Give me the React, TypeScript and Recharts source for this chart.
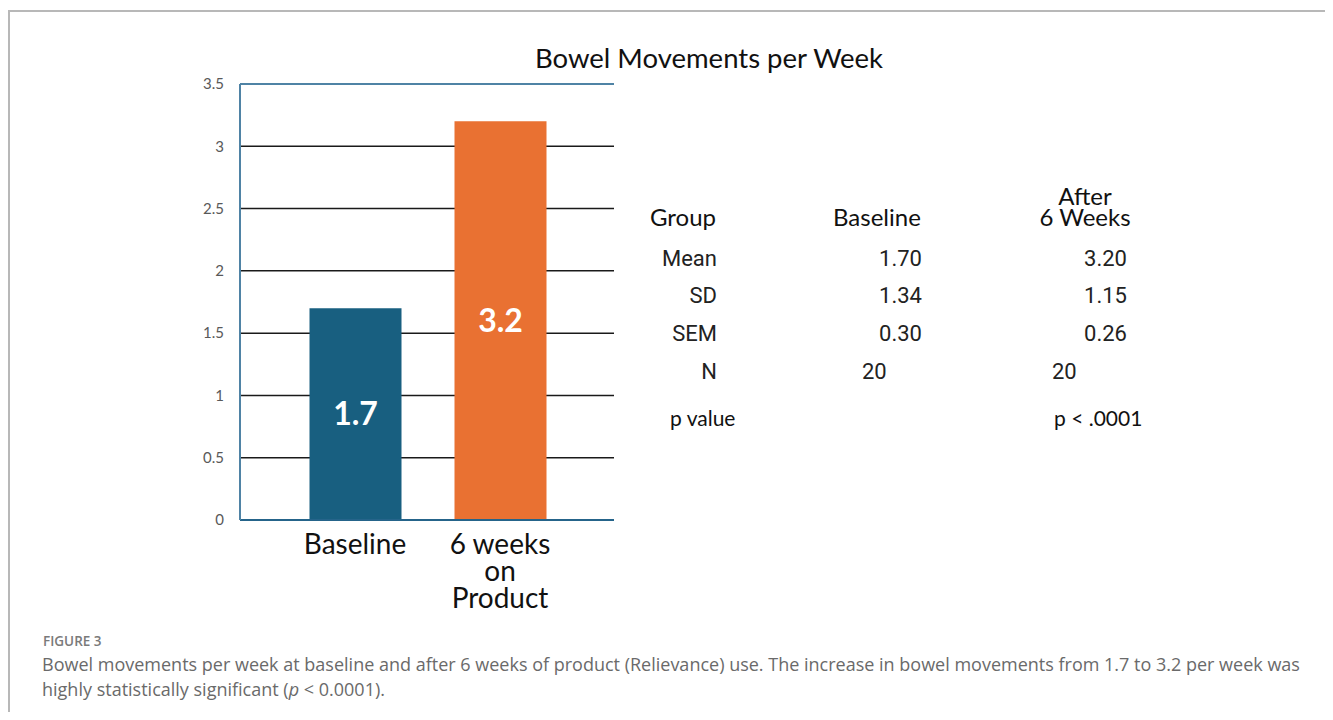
import { Bar, BarChart, CartesianGrid, Cell, LabelList, ReferenceLine, XAxis, YAxis } from 'recharts';

const categories = ['Baseline', '6 weeks\non\nProduct'];
const means = [1.7, 3.2];
const barColors = ['#185f80', '#e97132'];
const yTicks = [0, 0.5, 1, 1.5, 2, 2.5, 3, 3.5];

const statRows = ['Mean', 'SD', 'SEM', 'N'];
const baselineStats = ['1.70', '1.34', '0.30', '20'];
const afterStats = ['3.20', '1.15', '0.26', '20'];

const data = categories.map((name, i) => ({ name, mean: means[i] }));

const calibri = 'Lato, "Open Sans", sans-serif';
const din = 'Roboto, "Noto Sans", sans-serif';

function CategoryTick({ x, y, payload }: any) {
  const lines = String(payload.value).split('\n');
  return (
    <text x={x} y={y} textAnchor="middle" fontFamily={calibri} fontSize={28} fill="#111">
      {lines.map((l, i) => (
        <tspan key={i} x={x} dy={i === 0 ? 26 : 27}>
          {l}
        </tspan>
      ))}
    </text>
  );
}

function StatsTable() {
  const rowY = [258, 295, 333, 371];
  return (
    <svg width={1333} height={720} style={{ position: 'absolute', left: 0, top: 0, pointerEvents: 'none' }}>
      <g fontFamily={calibri} fontSize={24} fill="#111">
        <text x={650} y={226}>Group</text>
        <text x={833} y={226}>Baseline</text>
        <text x={1085} y={205} textAnchor="middle">After</text>
        <text x={1085} y={226} textAnchor="middle">6 Weeks</text>
      </g>
      <g fontFamily={din} fontSize={22} fill="#222">
        {statRows.map((r, i) => (
          <text key={r} x={717} y={rowY[i] + 8} textAnchor="end">{r}</text>
        ))}
        {baselineStats.map((v, i) =>
          v === '20' ? (
            <text key={i} x={862} y={rowY[i] + 8}>{v}</text>
          ) : (
            <text key={i} x={922} y={rowY[i] + 8} textAnchor="end">{v}</text>
          )
        )}
        {afterStats.map((v, i) =>
          v === '20' ? (
            <text key={i} x={1052} y={rowY[i] + 8}>{v}</text>
          ) : (
            <text key={i} x={1127} y={rowY[i] + 8} textAnchor="end">{v}</text>
          )
        )}
      </g>
      <g fontFamily={calibri} fontSize={21} fill="#111">
        <text x={670} y={426}>p value</text>
        <text x={1054} y={426}>p &lt; .0001</text>
      </g>
    </svg>
  );
}

export default function App() {
  return (
    <div style={{ position: 'relative', margin: -8, width: 1333, height: 720, overflow: 'hidden', background: '#fff' }}>
      <div
        style={{
          position: 'absolute',
          left: 8,
          top: 10,
          width: 1322,
          height: 730,
          border: '2px solid #b8b8b8',
        }}
      />
      <div
        style={{
          position: 'absolute',
          left: 0,
          width: 1418,
          top: 41,
          textAlign: 'center',
          fontFamily: calibri,
          fontSize: 27.5,
          color: '#111',
        }}
      >
        Bowel Movements per Week
      </div>
      <div style={{ position: 'absolute', left: 0, top: 0 }}>
        <BarChart width={700} height={640} data={data} margin={{ top: 84, right: 86, left: 180, bottom: 20 }}>
          <CartesianGrid yAxisId="left" vertical={false} stroke="#1a1a1a" strokeWidth={1.5} />
          <XAxis
            dataKey="name"
            padding={{ left: 42.5, right: 41.5 }}
            height={100}
            tickLine={false}
            axisLine={{ stroke: '#25648a', strokeWidth: 2 }}
            tick={<CategoryTick />}
            interval={0}
          />
          <YAxis
            yAxisId="left"
            domain={[0, 3.5]}
            ticks={yTicks}
            width={60}
            axisLine={{ stroke: '#4f83a5', strokeWidth: 2 }}
            tickLine={false}
            tickMargin={10}
            tick={{ fill: '#595959', fontSize: 15, fontFamily: calibri }}
          />
          <YAxis
            yAxisId="right"
            orientation="right"
            domain={[0, 3.5]}
            ticks={yTicks}
            width={0}
            tick={false}
            tickLine={false}
            axisLine={{ stroke: '#4f83a5', strokeWidth: 2 }}
          />
          <ReferenceLine yAxisId="left" y={3.5} stroke="#4f83a5" strokeWidth={2} />
          <Bar yAxisId="left" dataKey="mean" barSize={92} isAnimationActive={false}>
            {data.map((_, i) => (
              <Cell key={i} fill={barColors[i]} />
            ))}
            <LabelList
              dataKey="mean"
              position="center"
              fill="#fff"
              fontSize={32}
              fontWeight={700}
              fontFamily={calibri}
            />
          </Bar>
        </BarChart>
      </div>
      <StatsTable />
      <div
        style={{
          position: 'absolute',
          left: 43,
          top: 632,
          fontFamily: '"Open Sans", sans-serif',
          fontSize: 13.5,
          fontWeight: 600,
          color: '#7a7a7a',
        }}
      >
        FIGURE 3
      </div>
      <div
        style={{
          position: 'absolute',
          left: 42,
          top: 652,
          width: 1285,
          fontFamily: '"Open Sans", sans-serif',
          fontSize: 18,
          lineHeight: '25px',
          color: '#6a6a6a',
          whiteSpace: 'nowrap',
        }}
      >
        Bowel movements per week at baseline and after 6 weeks of product (Relievance) use. The increase in bowel
        movements from 1.7 to 3.2 per week was
        <br />
        highly statistically significant (<i>p</i> &lt; 0.0001).
      </div>
    </div>
  );
}
